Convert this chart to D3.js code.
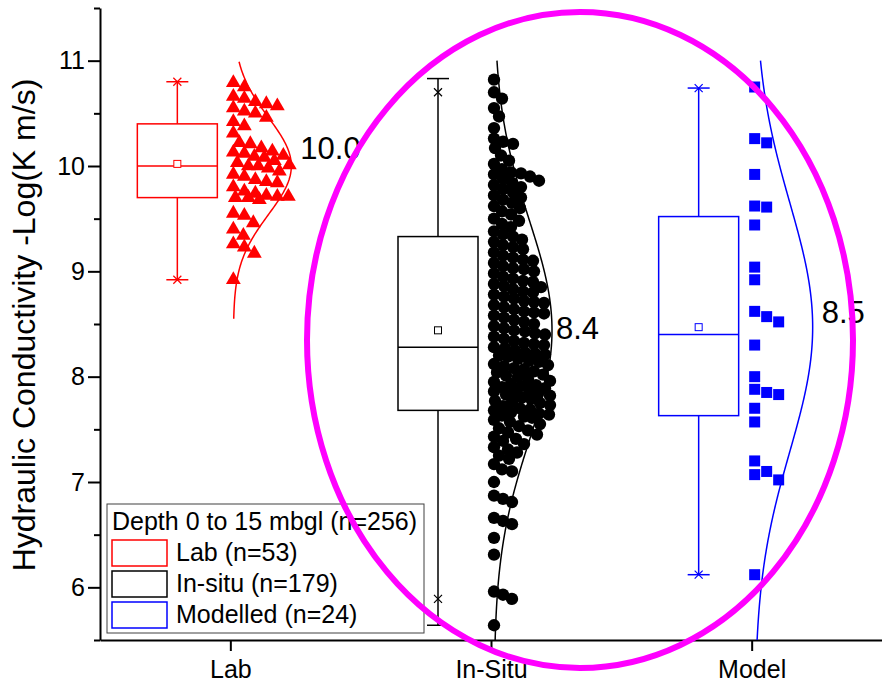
<!DOCTYPE html><html><head><meta charset="UTF-8"><script src="https://d3js.org/d3.v7.min.js"></script><style>
  body { margin: 0; background: #fff; }
  svg { font-family: "Liberation Sans", Arial, sans-serif; }
</style></head><body><div id="chart"></div><script>
const categories = ["Lab", "In-Situ", "Model"];
const colors = ["#ff0000", "#000000", "#0000ff"];

const labValues = [10.79, 10.75, 10.66, 10.64, 10.61, 10.59, 10.57, 10.55, 10.52, 10.50,
  10.46, 10.42, 10.38, 10.31, 10.22, 10.21, 10.17, 10.14, 10.13, 10.12, 10.10, 10.09,
  10.08, 10.05, 10.03, 10.01, 10.00, 10.00, 9.98, 9.95, 9.92, 9.90, 9.87, 9.85, 9.84,
  9.80, 9.76, 9.74, 9.72, 9.71, 9.71, 9.70, 9.70, 9.68, 9.55, 9.53, 9.46, 9.40, 9.34,
  9.26, 9.23, 9.17, 8.92];

const inSituValues = [
  10.82, 10.70, 10.64, 10.55, 10.47, 10.36, 10.26, 10.23, 10.21, 10.17, 10.10, 10.05, 10.02,
  9.97, 9.94, 9.93, 9.92, 9.90, 9.88, 9.86, 9.84, 9.82, 9.80, 9.78, 9.75, 9.72, 9.70, 9.68, 9.65, 9.62, 9.60, 9.57, 9.54, 9.50,
  9.48, 9.45, 9.42, 9.38, 9.35, 9.33, 9.30, 9.28, 9.25, 9.23, 9.21, 9.18, 9.15, 9.13, 9.11, 9.10, 9.08, 9.05, 9.03, 9.02, 9.00,
  8.98, 8.95, 8.93, 8.91, 8.90, 8.88, 8.86, 8.85, 8.83, 8.81, 8.80, 8.78, 8.76, 8.74, 8.72, 8.71, 8.70, 8.68, 8.66, 8.64,
  8.62, 8.61, 8.60, 8.58, 8.56, 8.54, 8.52, 8.50,
  8.48, 8.46, 8.44, 8.43, 8.41, 8.40, 8.38, 8.36, 8.34, 8.32, 8.31, 8.30, 8.28, 8.27, 8.25, 8.23, 8.22, 8.21, 8.20, 8.19,
  8.17, 8.15, 8.14, 8.12, 8.11, 8.10, 8.08, 8.07, 8.05, 8.04, 8.02, 8.01, 8.00,
  7.98, 7.96, 7.95, 7.93, 7.92, 7.91, 7.90, 7.89, 7.88, 7.86, 7.85, 7.84, 7.83, 7.82, 7.80, 7.79, 7.77, 7.76, 7.75, 7.73,
  7.72, 7.70, 7.69, 7.68, 7.66, 7.65, 7.64, 7.63, 7.62, 7.61, 7.59, 7.57, 7.55, 7.53, 7.51,
  7.49, 7.47, 7.45, 7.43, 7.41, 7.39, 7.36, 7.33, 7.31, 7.28, 7.25, 7.22, 7.17, 7.12, 7.10, 7.00,
  6.87, 6.84, 6.81, 6.66, 6.63, 6.60, 6.47, 6.31, 5.96, 5.93, 5.89, 5.64];

const modelValues = [10.75, 10.26, 10.22, 9.92, 9.62, 9.61, 9.44, 9.04, 8.92, 8.62, 8.57, 8.52,
  8.30, 8.00, 7.88, 7.85, 7.83, 7.70, 7.57, 7.20, 7.10, 7.07, 7.02, 6.12];

// box statistics
const boxQ1 = [9.70, 7.68, 7.63];
const boxMedian = [10.00, 8.28, 8.40];
const boxQ3 = [10.40, 9.33, 9.52];
const boxMean = [10.02, 8.44, 8.47];
const whiskerLow = [8.92, 5.64, 6.12];
const whiskerHigh = [10.80, 10.83, 10.74];
const pct01 = [8.92, 5.89, 6.12];
const pct99 = [10.80, 10.70, 10.74];

// normal curves
const curveMean = [10.0, 8.44, 8.47];
const curveSD = [0.46, 1.05, 1.18];
const curveLo = [8.55, 5.5, 5.5];
const curveHi = [11.0, 11.0, 11.0];

const yTicks = [6, 7, 8, 9, 10, 11];
const legendTitle = "Depth 0 to 15 mbgl (n=256)";
const legendLabels = ["Lab (n=53)", "In-situ (n=179)", "Modelled (n=24)"];
const yLabel = "Hydraulic Conductivity -Log(K m/s)";

const W = 882, H = 687;
const svg = d3.select('#chart').append('svg').attr('width', W).attr('height', H);

const x = d3.scalePoint().domain(categories).range([100, 882]).padding(0.5);
const y = d3.scaleLinear().domain([5.5, 11.5]).range([640, 8]);

// axes
const yAxis = svg.append('g').attr('transform', 'translate(100,0)')
  .call(d3.axisLeft(y).tickValues(yTicks).tickSize(12).tickSizeOuter(0).tickPadding(3).tickFormat(d3.format('d')));
svg.append('g').attr('transform', 'translate(100,0)')
  .call(d3.axisLeft(y).tickValues(d3.range(5.5, 11.6, 1)).tickSize(6).tickSizeOuter(0).tickFormat(''))
  .select('.domain').remove();
const xAxis = svg.append('g').attr('transform', 'translate(0,640)')
  .call(d3.axisBottom(x).tickSize(11).tickSizeOuter(0).tickPadding(9));
svg.selectAll('.domain, .tick line').attr('stroke', '#000').attr('stroke-width', 2);
yAxis.selectAll('text').attr('font-size', 25).attr('fill', '#000');
xAxis.selectAll('text').attr('font-size', 25).attr('fill', '#000');

svg.append('text').attr('transform', 'translate(35,325) rotate(-90)')
  .attr('text-anchor', 'middle').attr('font-size', 32).text(yLabel);

// swarm placement: shift each point right until it clears the placed ones
function swarm(values, gap, maxW) {
  const placed = [];
  return values.map(v => {
    const py = y(v);
    let best = 0, bestD = -1;
    for (let dx = 0; dx <= maxW; dx++) {
      let md = Infinity;
      placed.forEach(p => { md = Math.min(md, Math.hypot(p[0] - dx, p[1] - py)); });
      if (md >= gap) { best = dx; bestD = Infinity; break; }
      if (md > bestD) { bestD = md; best = dx; }
    }
    placed.push([best, py]);
    return { v, dx: 3 + best };
  });
}
function columns(values, step, gap, maxCol) {
  const placed = d3.range(maxCol).map(() => []);
  return values.map(v => {
    const py = y(v);
    let best = 0, bestD = -1;
    for (let c = 0; c < maxCol; c++) {
      const d = d3.min(placed[c], q => Math.abs(q - py));
      const dd = d === undefined ? Infinity : d;
      if (dd >= gap) { best = c; bestD = Infinity; break; }
      if (dd > bestD) { bestD = dd; best = c; }
    }
    placed[best].push(py);
    return { v, dx: 3 + best * step };
  });
}

const groups = [
  { values: labValues, symbol: d3.symbolTriangle, size: 95, layout: v => swarm(v, 11, 56) },
  { values: inSituValues, symbol: d3.symbolCircle, size: 120, layout: v => swarm(v, 9.5, 56) },
  { values: modelValues, symbol: d3.symbolSquare, size: 121, layout: v => columns(v, 12, 11, 5) }
];
const labelOffset = [[9, -18], [4, -2], [9, -15]];

groups.forEach((g, i) => {
  const cx = x(categories[i]);
  const col = colors[i];
  const pts = g.layout(g.values);
  svg.append('g').selectAll('path').data(pts).enter().append('path')
    .attr('d', d3.symbol().type(g.symbol).size(g.size))
    .attr('transform', d => `translate(${cx + d.dx},${y(d.v)})`)
    .attr('fill', col);

  // normal curve
  const amp = d3.scaleLinear().domain([0, 1]).range([cx + 3, cx + 61]);
  const line = d3.line()
    .x(v => amp(Math.exp(-0.5 * Math.pow((v - curveMean[i]) / curveSD[i], 2))))
    .y(v => y(v));
  const vs = d3.range(curveLo[i], curveHi[i] + 0.001, 0.02);
  svg.append('path').datum(vs).attr('d', line).attr('fill', 'none')
    .attr('stroke', col).attr('stroke-width', 1.5);
  svg.append('text').attr('x', amp(1) + labelOffset[i][0]).attr('y', y(curveMean[i]) + labelOffset[i][1])
    .attr('dominant-baseline', 'central').attr('font-size', 31).text(d3.format('.1f')(curveMean[i]));

  // box
  const bx = cx - 53, bw = 80;
  const gb = svg.append('g').attr('stroke', col).attr('stroke-width', 1.5).attr('fill', 'none');
  gb.append('line').attr('x1', bx).attr('x2', bx).attr('y1', y(whiskerHigh[i])).attr('y2', y(boxQ3[i]));
  gb.append('line').attr('x1', bx).attr('x2', bx).attr('y1', y(boxQ1[i])).attr('y2', y(whiskerLow[i]));
  [whiskerHigh[i], whiskerLow[i]].forEach(v => {
    gb.append('line').attr('x1', bx - 11).attr('x2', bx + 11).attr('y1', y(v)).attr('y2', y(v));
  });
  gb.append('rect').attr('x', bx - bw / 2).attr('y', y(boxQ3[i])).attr('width', bw)
    .attr('height', y(boxQ1[i]) - y(boxQ3[i])).attr('fill', '#fff');
  gb.append('line').attr('x1', bx - bw / 2).attr('x2', bx + bw / 2).attr('y1', y(boxMedian[i])).attr('y2', y(boxMedian[i]));
  gb.append('rect').attr('x', bx - 3.5).attr('y', y(boxMean[i]) - 3.5).attr('width', 7).attr('height', 7).attr('fill', '#fff').attr('stroke-width', 1);
  [pct99[i], pct01[i]].forEach(v => {
    gb.append('path').attr('d', `M${bx - 4},${y(v) - 4}L${bx + 4},${y(v) + 4}M${bx - 4},${y(v) + 4}L${bx + 4},${y(v) - 4}`)
      .attr('stroke-width', 1.2);
  });
});

// legend
const lg = svg.append('g');
lg.append('rect').attr('x', 107).attr('y', 504).attr('width', 317).attr('height', 129)
  .attr('fill', '#fff').attr('stroke', '#404040').attr('stroke-width', 1);
lg.append('text').attr('x', 112).attr('y', 530).attr('font-size', 25).text(legendTitle);
legendLabels.forEach((t, i) => {
  lg.append('rect').attr('x', 112).attr('y', 540 + i * 31).attr('width', 55).attr('height', 26)
    .attr('fill', 'none').attr('stroke', colors[i]).attr('stroke-width', 1.5);
  lg.append('text').attr('x', 176).attr('y', 561 + i * 31).attr('font-size', 25).text(t);
});

// highlight ellipse
svg.append('ellipse').attr('cx', 580).attr('cy', 340).attr('rx', 273).attr('ry', 328)
  .attr('fill', 'none').attr('stroke', '#ff00ff').attr('stroke-width', 6);
</script></body></html>
